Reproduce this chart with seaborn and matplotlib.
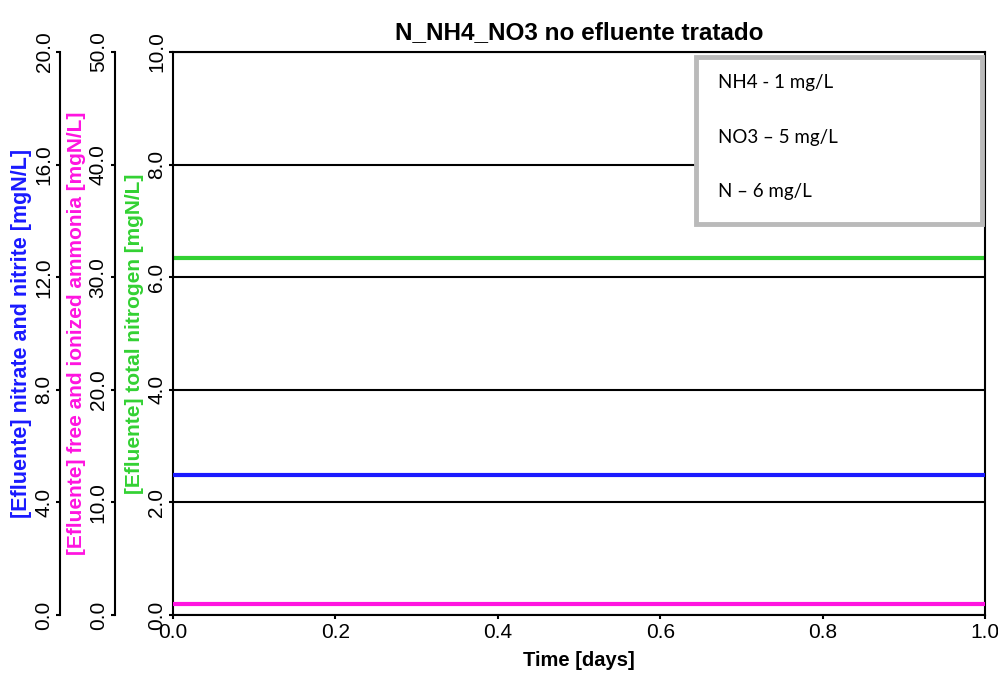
import matplotlib
matplotlib.use("Agg")
import matplotlib.pyplot as plt
import seaborn as sns
from matplotlib.patches import Rectangle
from matplotlib.ticker import FormatStrFormatter, MultipleLocator

# values (constant over the simulated day)
time_days = [0.0, 1.0]
total_nitrogen = [6.35, 6.35]      # mgN/L, right-most left axis (0-10)
nitrate_nitrite = [4.97, 4.97]     # mgN/L, outer axis (0-20)
ammonia = [0.98, 0.98]             # mgN/L, middle axis (0-50)
note_lines = ["NH4 - 1 mg/L", "NO3 \u2013 5 mg/L", "N \u2013 6 mg/L"]

blue = "#1a1aff"
magenta = "#ff14e0"
green = "#33d133"

sns.set_style("white")
label_font = ["Liberation Sans", "DejaVu Sans"]
plt.rcParams["font.family"] = label_font
plt.rcParams["text.color"] = "black"
plt.rcParams["axes.labelcolor"] = "black"
plt.rcParams["xtick.color"] = "black"
plt.rcParams["ytick.color"] = "black"

fig = plt.figure(figsize=(9.98, 6.81), dpi=100)
ax = fig.add_axes([0.1733, 0.0969, 0.8137, 0.8267])

# main axis: total nitrogen
sns.lineplot(x=time_days, y=total_nitrogen, ax=ax, color=green, lw=3)
ax.set_xlim(0, 1)
ax.set_ylim(0, 10)
ax.yaxis.set_major_locator(MultipleLocator(2))
ax.xaxis.set_major_locator(MultipleLocator(0.2))
ax.yaxis.grid(True, color="black", lw=1.5)
ax.set_axisbelow(True)

# extra axes on the left
ax_nh = ax.twinx()
ax_no = ax.twinx()
sns.lineplot(x=time_days, y=ammonia, ax=ax_nh, color=magenta, lw=3)
sns.lineplot(x=time_days, y=nitrate_nitrite, ax=ax_no, color=blue, lw=3)
ax_nh.set_ylim(0, 50)
ax_nh.yaxis.set_major_locator(MultipleLocator(10))
ax_no.set_ylim(0, 20)
ax_no.yaxis.set_major_locator(MultipleLocator(4))

for a, off in [(ax_nh, 42), (ax_no, 81)]:
    a.yaxis.set_label_position("left")
    a.yaxis.set_ticks_position("left")
    a.spines["left"].set_position(("outward", off))
    for s in ["right", "top", "bottom"]:
        a.spines[s].set_visible(False)
    a.patch.set_visible(False)
    a.set_xlim(0, 1)

for a in [ax, ax_nh, ax_no]:
    a.yaxis.set_major_formatter(FormatStrFormatter("%.1f"))
    a.tick_params(axis="y", labelrotation=90, labelsize=15, length=3, width=1.5,
                  direction="out", pad=2, left=True, colors="black")
    for lbl in a.get_yticklabels():
        lbl.set_va("center")
    for s in a.spines.values():
        s.set_linewidth(1.5)
        s.set_color("black")

ax.xaxis.set_major_formatter(FormatStrFormatter("%.1f"))
ax.tick_params(axis="x", labelsize=15, length=3, width=1.5, direction="out",
               pad=3, bottom=True, colors="black")

ax.set_ylabel("[Efluente] total nitrogen [mgN/L]", color=green, fontsize=15,
              fontweight="bold", labelpad=2)
ax_nh.set_ylabel("[Efluente] free and ionized ammonia [mgN/L]", color=magenta,
                 fontsize=15, fontweight="bold", labelpad=2)
ax_no.set_ylabel("[Efluente] nitrate and nitrite [mgN/L]", color=blue,
                 fontsize=15.5, fontweight="bold", labelpad=2)
ax.set_xlabel("Time [days]", fontsize=14.5, fontweight="bold", labelpad=6,
              color="black")
ax.set_title("N_NH4_NO3 no efluente tratado", fontsize=17.5, fontweight="bold",
             pad=9, color="black")

# note box in the top right corner
box = Rectangle((0.644, 0.694), 0.352, 0.297, transform=ax_no.transAxes,
                facecolor="white", edgecolor="#bababa", lw=3.5, zorder=10)
ax_no.add_patch(box)
for txt, yy in zip(note_lines, [0.945, 0.849, 0.753]):
    ax_no.text(0.671, yy, txt, transform=ax_no.transAxes, fontsize=13.5,
               family=["Lato", "DejaVu Sans"], va="center", ha="left",
               color="black", zorder=11)

fig.savefig("out.png", dpi=100)
